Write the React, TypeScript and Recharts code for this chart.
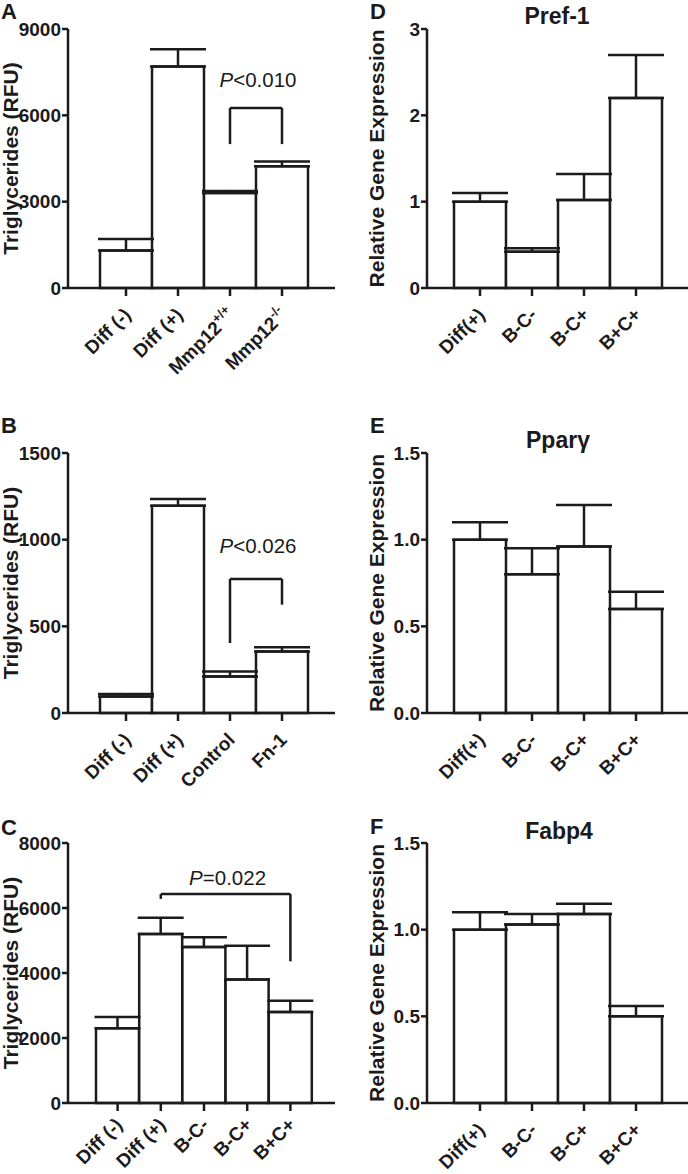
import React from 'react';
import { BarChart, Bar, XAxis, YAxis, ErrorBar, ReferenceLine } from 'recharts';

const FONT = '"Liberation Sans", Arial, Helvetica, sans-serif';
const INK = '#1c1a1b';

// Panel A
const catsA = ['Diff (-)', 'Diff (+)', 'Mmp12+/+', 'Mmp12-/-'];
const valsA = [1300, 7700, 3300, 4230];
const errA = [400, 600, 70, 170];
const ticksA = [0, 3000, 6000, 9000];

// Panel B
const catsB = ['Diff (-)', 'Diff (+)', 'Control', 'Fn-1'];
const valsB = [95, 1195, 210, 355];
const errB = [15, 40, 30, 25];
const ticksB = [0, 500, 1000, 1500];

// Panel C
const catsC = ['Diff (-)', 'Diff (+)', 'B-C-', 'B-C+', 'B+C+'];
const valsC = [2300, 5200, 4800, 3800, 2800];
const errC = [350, 500, 300, 1040, 350];
const ticksC = [0, 2000, 4000, 6000, 8000];

// Panels D-F
const catsGene = ['Diff(+)', 'B-C-', 'B-C+', 'B+C+'];
const valsD = [1.0, 0.42, 1.02, 2.2];
const errD = [0.1, 0.04, 0.3, 0.5];
const ticksD = [0, 1, 2, 3];
const valsE = [1.0, 0.8, 0.96, 0.6];
const errE = [0.1, 0.15, 0.24, 0.1];
const valsF = [1.0, 1.03, 1.09, 0.5];
const errF = [0.1, 0.06, 0.06, 0.06];
const ticksGene = [0, 0.5, 1.0, 1.5];

// Significance brackets
const bracketA = { from: 'Mmp12+/+', to: 'Mmp12-/-', top: 6255, leftEnd: 5000, rightEnd: 5000, text: '<0.010' };
const bracketB = { from: 'Control', to: 'Fn-1', top: 773, leftEnd: 404, rightEnd: 625, text: '<0.026' };
const bracketC = { from: 'Diff (+)', to: 'B+C+', top: 6430, leftEnd: 6280, rightEnd: 4360, text: '=0.022' };

const build = (cats: string[], vals: number[], errs: number[]) =>
  cats.map((c, i) => ({ name: c, value: vals[i], err: [0, errs[i]] }));

function XTick(props: any) {
  const { x, y, payload, drop } = props;
  const label: string = payload.value;
  const ax = x + 6;
  const ay = y + (drop ?? 20);
  const m = label.match(/^(Mmp12)(.*)$/);
  return (
    <text
      x={ax}
      y={ay}
      transform={`rotate(-45, ${ax}, ${ay})`}
      textAnchor="end"
      fill={INK}
      fontSize={19}
      fontWeight="bold"
      fontFamily={FONT}
    >
      {m ? (
        <>
          <tspan>{m[1]}</tspan>
          <tspan fontSize={13} dy={-8}>{m[2]}</tspan>
        </>
      ) : (
        label
      )}
    </text>
  );
}

function PLabel(props: any) {
  const { viewBox, text, lift } = props;
  if (!viewBox) return null;
  const cx = viewBox.x + viewBox.width / 2 + 2;
  return (
    <text x={cx} y={viewBox.y - lift} textAnchor="middle" fill={INK} fontSize={20.5} fontFamily={FONT}>
      <tspan fontStyle="italic">P</tspan>
      <tspan>{text}</tspan>
    </text>
  );
}

type PanelProps = {
  left: number;
  top: number;
  width: number;
  height: number;
  plotTop: number;
  plotBottom: number;
  yAxisWidth: number;
  rightMargin: number;
  padL: number;
  padR: number;
  data: any[];
  ticks: number[];
  domainMax: number;
  yLabel: string;
  yLabelX: number;
  fmt?: (v: number) => string;
  capWidth: number;
  bracket?: any;
  pLift?: number;
  drop?: number;
};

const SW = 2.5;

function Panel(p: PanelProps) {
  const xAxisHeight = p.height - p.plotBottom;
  const cy = (p.plotTop + p.plotBottom) / 2;
  const YLabel = () => (
    <text
      x={p.yLabelX}
      y={cy}
      transform={`rotate(-90, ${p.yLabelX}, ${cy})`}
      textAnchor="middle"
      fill={INK}
      fontSize={21}
      fontWeight="bold"
      fontFamily={FONT}
    >
      {p.yLabel}
    </text>
  );
  const b = p.bracket;
  return (
    <div style={{ position: 'absolute', left: p.left, top: p.top }}>
      <BarChart
        width={p.width}
        height={p.height}
        data={p.data}
        margin={{ top: p.plotTop, right: p.rightMargin, bottom: 0, left: 0 }}
        barCategoryGap={0}
      >
        <XAxis
          dataKey="name"
          height={xAxisHeight}
          padding={{ left: p.padL, right: p.padR }}
          axisLine={{ stroke: INK, strokeWidth: SW }}
          tickLine={{ stroke: INK, strokeWidth: SW }}
          tickSize={8}
          tickMargin={0}
          interval={0}
          tick={<XTick drop={p.drop} />}
        />
        <YAxis
          width={p.yAxisWidth}
          domain={[0, p.domainMax]}
          ticks={p.ticks}
          interval={0}
          axisLine={{ stroke: INK, strokeWidth: SW }}
          tickLine={{ stroke: INK, strokeWidth: SW }}
          tickSize={6}
          tickMargin={1}
          tickFormatter={p.fmt}
          tick={{ fill: INK, fontSize: 19, fontWeight: 'bold', fontFamily: FONT }}
          label={<YLabel />}
        />
        <Bar dataKey="value" fill="#ffffff" stroke={INK} strokeWidth={SW} isAnimationActive={false}>
          <ErrorBar dataKey="err" width={p.capWidth} stroke={INK} strokeWidth={SW} direction="y" />
        </Bar>
        {b && (
          <ReferenceLine
            segment={[{ x: b.from, y: b.top }, { x: b.to, y: b.top }]}
            stroke={INK}
            strokeWidth={SW}
            ifOverflow="visible"
            label={<PLabel text={b.text} lift={p.pLift} />}
          />
        )}
        {b && (
          <ReferenceLine
            segment={[{ x: b.from, y: b.top }, { x: b.from, y: b.leftEnd }]}
            stroke={INK}
            strokeWidth={SW}
            ifOverflow="visible"
          />
        )}
        {b && (
          <ReferenceLine
            segment={[{ x: b.to, y: b.top }, { x: b.to, y: b.rightEnd }]}
            stroke={INK}
            strokeWidth={SW}
            ifOverflow="visible"
          />
        )}
      </BarChart>
    </div>
  );
}

const fmt1 = (v: number) => v.toFixed(1);

export default function App() {
  const letterStyle = { fill: INK, fontSize: 22, fontWeight: 'bold' as const, fontFamily: FONT };
  const titleStyle = { fill: INK, fontSize: 23, fontWeight: 'bold' as const, fontFamily: FONT };
  return (
    <div style={{ position: 'absolute', left: 0, top: 0, width: 688, height: 1174, background: '#fff', overflow: 'hidden' }}>
      <Panel left={0} top={0} width={344} height={420} plotTop={29} plotBottom={288} yAxisWidth={68} rightMargin={9}
        padL={32} padR={27} data={build(catsA, valsA, errA)} ticks={ticksA} domainMax={9000}
        yLabel="Triglycerides (RFU)" yLabelX={18} capWidth={28} bracket={bracketA} pLift={21} />
      <Panel left={0} top={390} width={344} height={420} plotTop={63} plotBottom={323} yAxisWidth={68} rightMargin={9}
        padL={32} padR={27} data={build(catsB, valsB, errB)} ticks={ticksB} domainMax={1500}
        yLabel="Triglycerides (RFU)" yLabelX={18} capWidth={28} bracket={bracketB} pLift={26} />
      <Panel left={0} top={780} width={344} height={394} plotTop={63} plotBottom={323} yAxisWidth={68} rightMargin={9}
        padL={28} padR={23} data={build(catsC, valsC, errC)} ticks={ticksC} domainMax={8000}
        yLabel="Triglycerides (RFU)" yLabelX={18} capWidth={23} bracket={bracketC} pLift={9} drop={15} />
      <Panel left={344} top={0} width={344} height={420} plotTop={29} plotBottom={288} yAxisWidth={83} rightMargin={0}
        padL={27} padR={26} data={build(catsGene, valsD, errD)} ticks={ticksD} domainMax={3}
        yLabel="Relative Gene Expression" yLabelX={40} capWidth={28} />
      <Panel left={344} top={390} width={344} height={420} plotTop={63} plotBottom={323} yAxisWidth={83} rightMargin={0}
        padL={27} padR={26} data={build(catsGene, valsE, errE)} ticks={ticksGene} domainMax={1.5}
        yLabel="Relative Gene Expression" yLabelX={40} fmt={fmt1} capWidth={28} />
      <Panel left={344} top={780} width={344} height={394} plotTop={63} plotBottom={323} yAxisWidth={83} rightMargin={0}
        padL={27} padR={26} data={build(catsGene, valsF, errF)} ticks={ticksGene} domainMax={1.5}
        yLabel="Relative Gene Expression" yLabelX={40} fmt={fmt1} capWidth={28} />
      <svg width={688} height={1174} style={{ position: 'absolute', left: 0, top: 0, pointerEvents: 'none' }}>
        <text x={1} y={19} {...letterStyle}>A</text>
        <text x={1} y={433} {...letterStyle}>B</text>
        <text x={1} y={835} {...letterStyle}>C</text>
        <text x={370} y={19} {...letterStyle}>D</text>
        <text x={370} y={433} {...letterStyle}>E</text>
        <text x={370} y={834} {...letterStyle}>F</text>
        <text x={557} y={24} textAnchor="middle" {...titleStyle}>Pref-1</text>
        <text x={558} y={448} textAnchor="middle" {...titleStyle}>Pparγ</text>
        <text x={559} y={839} textAnchor="middle" {...titleStyle}>Fabp4</text>
      </svg>
    </div>
  );
}
